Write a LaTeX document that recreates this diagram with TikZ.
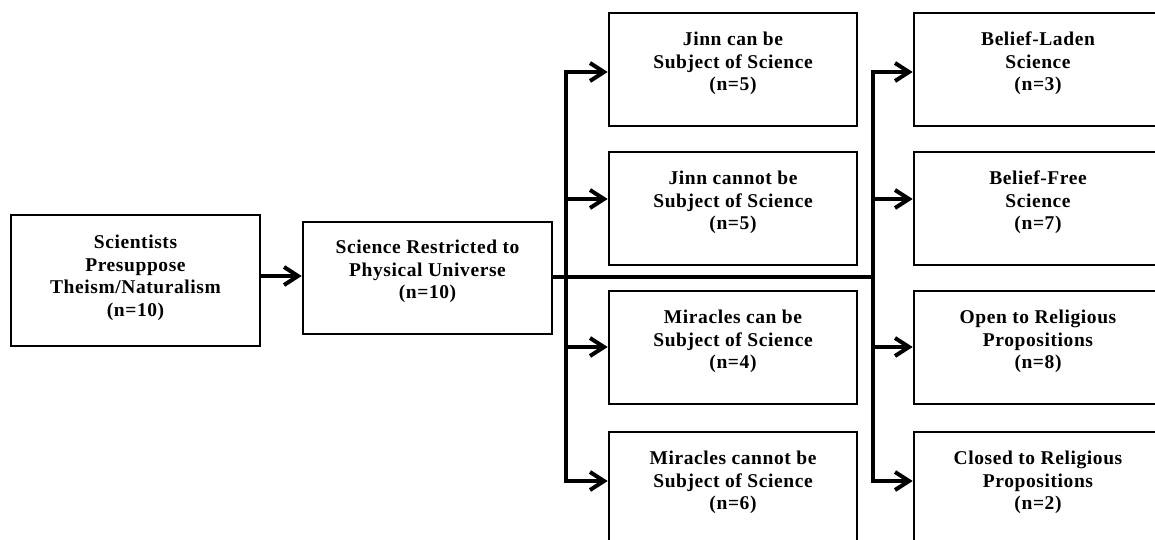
\documentclass[tikz,border=0pt]{standalone}
\usepackage{fontspec}
\setmainfont{Liberation Serif}[LetterSpace=3]
\usetikzlibrary{arrows.meta}
\begin{document}
\begin{tikzpicture}[x=1pt,y=-1pt,
  box/.style={draw=black, line width=2.6pt, minimum width=248pt, minimum height=113pt, inner sep=0pt},
  txt/.style={align=center, font=\bfseries\fontsize{19.5}{22.6}\selectfont, inner sep=0pt, anchor=north},
  conn/.style={line width=4pt},
  arr/.style={line width=4pt, -{Straight Barb[length=14pt,width=18pt]}}]
\useasboundingbox (0,0) rectangle (1155,540);
\fill[white] (0,0) rectangle (1155,540);
\clip (0,0) rectangle (1155,540);
% boxes
\node[box, minimum width=249pt, minimum height=131pt] (A) at (135.5,280.5) {};
\node[box, minimum width=249pt, minimum height=112pt] (B) at (427.5,278) {};
\node[box] (M1) at (733,69.5) {};
\node[box] (M2) at (733,208.5) {};
\node[box] (M3) at (733,347.5) {};
\node[box] (M4) at (733,488.5) {};
\node[box] (R1) at (1038,69.5) {};
\node[box] (R2) at (1038,208.5) {};
\node[box] (R3) at (1038,347.5) {};
\node[box] (R4) at (1038,488.5) {};
% texts
\node[txt] (At) at ([yshift=-21pt]A.north) {Scientists\\Presuppose\\Theism/Naturalism\\(n=10)};
\node[txt] (Bt) at ([yshift=-19pt]B.north) {Science Restricted to\\Physical Universe\\(n=10)};
\node[txt] (M1t) at ([yshift=-20pt]M1.north) {Jinn can be\\Subject of Science\\(n=5)};
\node[txt] (M2t) at ([yshift=-20pt]M2.north) {Jinn cannot be\\Subject of Science\\(n=5)};
\node[txt] (M3t) at ([yshift=-20pt]M3.north) {Miracles can be\\Subject of Science\\(n=4)};
\node[txt] (M4t) at ([yshift=-20pt]M4.north) {Miracles cannot be\\Subject of Science\\(n=6)};
\node[txt] (R1t) at ([yshift=-20pt]R1.north) {Belief-Laden\\Science\\(n=3)};
\node[txt] (R2t) at ([yshift=-20pt]R2.north) {Belief-Free\\Science\\(n=7)};
\node[txt] (R3t) at ([yshift=-20pt]R3.north) {Open to Religious\\Propositions\\(n=8)};
\node[txt] (R4t) at ([yshift=-20pt]R4.north) {Closed to Religious\\Propositions\\(n=2)};
% junction coordinates
\coordinate (jl) at (566,277);
\coordinate (jr) at (873,277);
% connectors
\draw[arr] (A.east |- 0,276) -- (B.west |- 0,276);
\draw[conn] (B.east |- jl) -- (jr);
\draw[arr] (jl) |- (M1.west |- 0,72);
\draw[arr] (jl |- 0,199) -- (M2.west |- 0,199);
\draw[arr] (jl |- 0,347) -- (M3.west |- 0,347);
\draw[arr] (jl) |- (M4.west |- 0,481);
\draw[arr] (jr) |- (R1.west |- 0,72);
\draw[arr] (jr |- 0,199) -- (R2.west |- 0,199);
\draw[arr] (jr |- 0,347) -- (R3.west |- 0,347);
\draw[arr] (jr) |- (R4.west |- 0,481);
\end{tikzpicture}
\end{document}
